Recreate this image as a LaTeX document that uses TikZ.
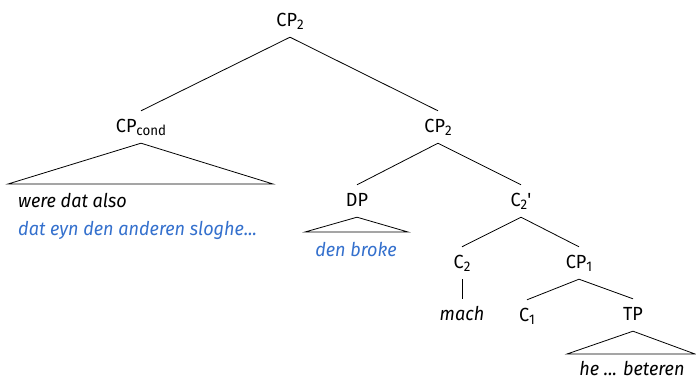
\documentclass[tikz,border=0pt]{standalone}
\usepackage{fontspec}
\setmainfont[FakeStretch=0.95]{Fira Sans}
\definecolor{glossblue}{RGB}{52,112,205}
\newcommand\lsub[1]{\raisebox{-0.35ex}{\fontsize{14}{14}\selectfont #1}}
\begin{document}
\begin{tikzpicture}[x=1pt,y=-1pt,
  lbl/.style={font=\fontsize{19}{22}\selectfont, text height=14pt, text depth=4pt,
    inner xsep=1pt, inner ysep=7pt, anchor=base},
  word/.style={lbl, font=\fontsize{19}{22}\selectfont\itshape},
  gloss/.style={word, text=glossblue},
  branch/.style={line width=0.8pt, line join=miter}]
\useasboundingbox (0,0) rectangle (696,380);

% category labels
\node[lbl] (cp2)  at (290,26)  {CP\lsub{2}};
\node[lbl] (cpc)  at (141,132) {CP\lsub{cond}};
\node[lbl] (cp2r) at (438,132) {CP\lsub{2}};
\node[lbl] (dp)   at (357,206) {DP};
\node[lbl] (c2b)  at (521,206) {C\lsub{2}\textquotesingle};
\node[lbl] (c2)   at (462,268) {C\lsub{2}};
\node[lbl] (cp1)  at (579,268) {CP\lsub{1}};
\node[lbl] (c1)   at (527,321) {C\lsub{1}};
\node[lbl] (tp)   at (633,320) {TP};

% terminal strings
\node[word] (mach) at (462,320) {mach};
\node[word, anchor=base west] (cond1) at (17,207) {were dat also};
\node[gloss, anchor=base west] (cond2) at (17,235) {dat eyn den anderen sloghe...};
\node[gloss] (broke) at (356,256) {den broke};
\node[word] (rest) at (632,375) {he ... beteren};

% branches
\draw[branch] (cpc.north) -- (cp2.south) -- (cp2r.north);
\draw[branch] (dp.north) -- (cp2r.south) -- (c2b.north);
\draw[branch] (c2.north) -- (c2b.south) -- (cp1.north);
\draw[branch] (c1.north) -- (cp1.south) -- (tp.north);
\draw[branch] (c2.south) -- (mach.north);

% triangles over unanalysed constituents
\coordinate (cpcL) at (8,184);   \coordinate (cpcR) at (273,184);
\coordinate (dpL)  at (305,232); \coordinate (dpR)  at (408,232);
\coordinate (tpL)  at (567,354); \coordinate (tpR)  at (695,354);
\draw[branch] (cpcL) -- (cpc.south) -- (cpcR) -- cycle;
\draw[branch] (dpL) -- (dp.south) -- (dpR) -- cycle;
\draw[branch] (tpL) -- (tp.south) -- (tpR) -- cycle;
\end{tikzpicture}
\end{document}
